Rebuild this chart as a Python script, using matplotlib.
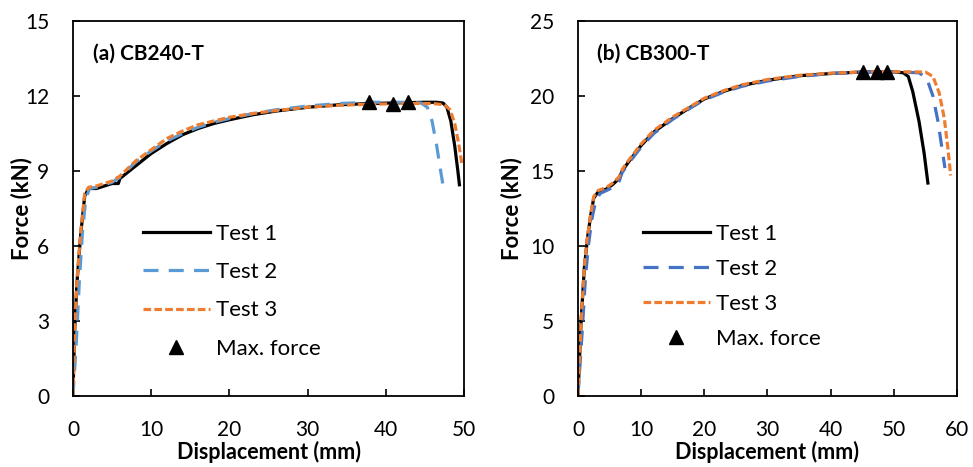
import matplotlib
matplotlib.use("Agg")
import matplotlib.pyplot as plt

plt.rcParams['font.family'] = ['Lato', 'DejaVu Sans']

# (a) CB240-T
a_x1 = [0, 0.2, 0.5, 1.0, 1.5, 2.0, 3.0, 4.0, 5.0, 5.8, 6.0, 7, 8, 10, 12, 14, 16, 18, 20, 23, 26, 30, 34, 38, 42, 45, 46.5, 47.3, 47.8, 48.3, 48.8, 49.2, 49.4]
a_y1 = [0, 2.5, 4.5, 6.5, 8.0, 8.3, 8.3, 8.4, 8.5, 8.5, 8.7, 8.95, 9.2, 9.7, 10.1, 10.45, 10.7, 10.9, 11.05, 11.25, 11.4, 11.55, 11.65, 11.7, 11.73, 11.75, 11.75, 11.72, 11.55, 11.0, 10.0, 9.0, 8.45]
a_x2 = [0, 0.4, 0.8, 1.2, 1.6, 2.1, 3.0, 4.0, 5.0, 6.0, 7, 8, 10, 12, 14, 16, 18, 20, 23, 26, 30, 34, 38, 42, 44.5, 45.3, 45.9, 46.5, 47.0, 47.4]
a_y2 = [0, 2.0, 4.5, 6.5, 7.8, 8.3, 8.35, 8.45, 8.55, 8.75, 9.05, 9.35, 9.8, 10.2, 10.5, 10.75, 10.95, 11.1, 11.3, 11.45, 11.6, 11.7, 11.75, 11.75, 11.72, 11.55, 11.0, 10.0, 9.0, 8.25]
a_x3 = [0, 0.2, 0.5, 1.0, 1.5, 2.0, 3.0, 4.0, 5.0, 6.0, 7, 8, 10, 12, 14, 16, 18, 20, 23, 26, 30, 34, 38, 42, 46, 47.5, 48.2, 48.8, 49.3, 49.7]
a_y3 = [0, 2.6, 4.6, 6.6, 8.1, 8.35, 8.4, 8.5, 8.6, 8.8, 9.1, 9.4, 9.85, 10.3, 10.6, 10.85, 11.0, 11.15, 11.3, 11.42, 11.55, 11.63, 11.67, 11.7, 11.7, 11.65, 11.45, 10.9, 10.1, 9.3]
a_max_x = [37.9, 40.9, 42.8]
a_max_y = [11.75, 11.68, 11.75]

# (b) CB300-T
b_x1 = [0, 0.5, 1.0, 1.5, 2.0, 2.5, 3.2, 4.5, 5.5, 6.5, 7, 8, 10, 12, 15, 18, 20, 23, 26, 30, 35, 40, 45, 50, 51.5, 52.3, 53, 54, 54.8, 55.4]
b_y1 = [0, 5, 8.5, 10.5, 12.0, 13.2, 13.6, 13.8, 14.1, 14.5, 15.0, 15.6, 16.7, 17.6, 18.5, 19.3, 19.8, 20.3, 20.7, 21.05, 21.35, 21.5, 21.6, 21.6, 21.55, 21.3, 20.3, 18.3, 16.2, 14.2]
b_x2 = [0, 0.7, 1.2, 1.7, 2.2, 2.8, 3.5, 4.5, 5.5, 6.5, 7, 8, 10, 12, 15, 18, 20, 23, 26, 30, 35, 40, 45, 50, 54, 55.2, 56.2, 57.0, 57.6, 58.1]
b_y2 = [0, 4.5, 8.0, 10.2, 11.8, 13.0, 13.5, 13.7, 13.9, 14.3, 14.9, 15.5, 16.6, 17.5, 18.45, 19.25, 19.75, 20.25, 20.65, 21.0, 21.3, 21.5, 21.58, 21.6, 21.55, 21.2, 20.0, 18.3, 16.6, 15.2]
b_x3 = [0, 0.5, 1.0, 1.5, 2.0, 2.5, 3.2, 4.5, 5.5, 6.5, 7, 8, 10, 12, 15, 18, 20, 23, 26, 30, 35, 40, 45, 50, 55, 56.2, 57.2, 58.0, 58.6, 59.0]
b_y3 = [0, 5, 8.6, 10.6, 12.1, 13.3, 13.7, 13.9, 14.2, 14.6, 15.1, 15.7, 16.8, 17.7, 18.6, 19.35, 19.85, 20.35, 20.75, 21.1, 21.38, 21.52, 21.6, 21.62, 21.6, 21.3, 20.2, 18.5, 16.4, 14.7]
b_max_x = [45.1, 47.3, 48.9]
b_max_y = [21.6, 21.6, 21.6]

fig = plt.figure(figsize=(9.73, 4.67), dpi=100)
ax1 = fig.add_axes([0.075, 0.152, 0.402, 0.803])
ax2 = fig.add_axes([0.594, 0.152, 0.3895, 0.803])

panels = [
    (ax1, a_x1, a_y1, a_x2, a_y2, a_x3, a_y3, a_max_x, a_max_y, '#5B9BD5', 50, 15, 3, '(a) CB240-T', 0.179, 0.459, 0.82, -0.105),
    (ax2, b_x1, b_y1, b_x2, b_y2, b_x3, b_y3, b_max_x, b_max_y, '#4472C4', 60, 25, 5, '(b) CB300-T', 0.172, 0.459, 0.68, -0.148),
]

for ax, x1, y1, x2, y2, x3, y3, mx, my, blue, xmax, ymax, ystep, tag, lgx, lgy, lsp, ylx in panels:
    ax.plot(x1, y1, color='black', lw=2.3, label='Test 1')
    ax.plot(x2, y2, color=blue, lw=2.3, dashes=(4.7, 3.2), label='Test 2')
    ax.plot(x3, y3, color='#ED7D31', lw=2.3, dashes=(2.4, 1.0), label='Test 3')
    ax.plot(mx, my, '^', color='black', ms=10, ls='none', label='Max. force')
    ax.set_xlim(0, xmax)
    ax.set_ylim(0, ymax)
    ax.set_xticks(range(0, xmax + 1, 10))
    ax.set_yticks(range(0, ymax + 1, ystep))
    ax.tick_params(direction='in', labelsize=15, length=5, width=1.2)
    ax.tick_params(axis='x', pad=17)
    ax.tick_params(axis='y', pad=17)
    for s in ax.spines.values():
        s.set_linewidth(1.3)
    ax.set_xlabel('Displacement (mm)', fontsize=15.5, fontweight='bold', labelpad=1)
    ax.set_ylabel('Force (kN)', fontsize=16, fontweight='bold')
    ax.yaxis.set_label_coords(ylx, 0.5)
    ax.text(0.05, 0.912, tag, transform=ax.transAxes, fontsize=15, fontweight='bold', va='center')
    ax.legend(loc='upper left', bbox_to_anchor=(lgx, lgy), frameon=False, fontsize=16,
              handlelength=3.0, handletextpad=0.27, labelspacing=lsp, borderpad=0, borderaxespad=0)

fig.savefig('out.png', dpi=100)
